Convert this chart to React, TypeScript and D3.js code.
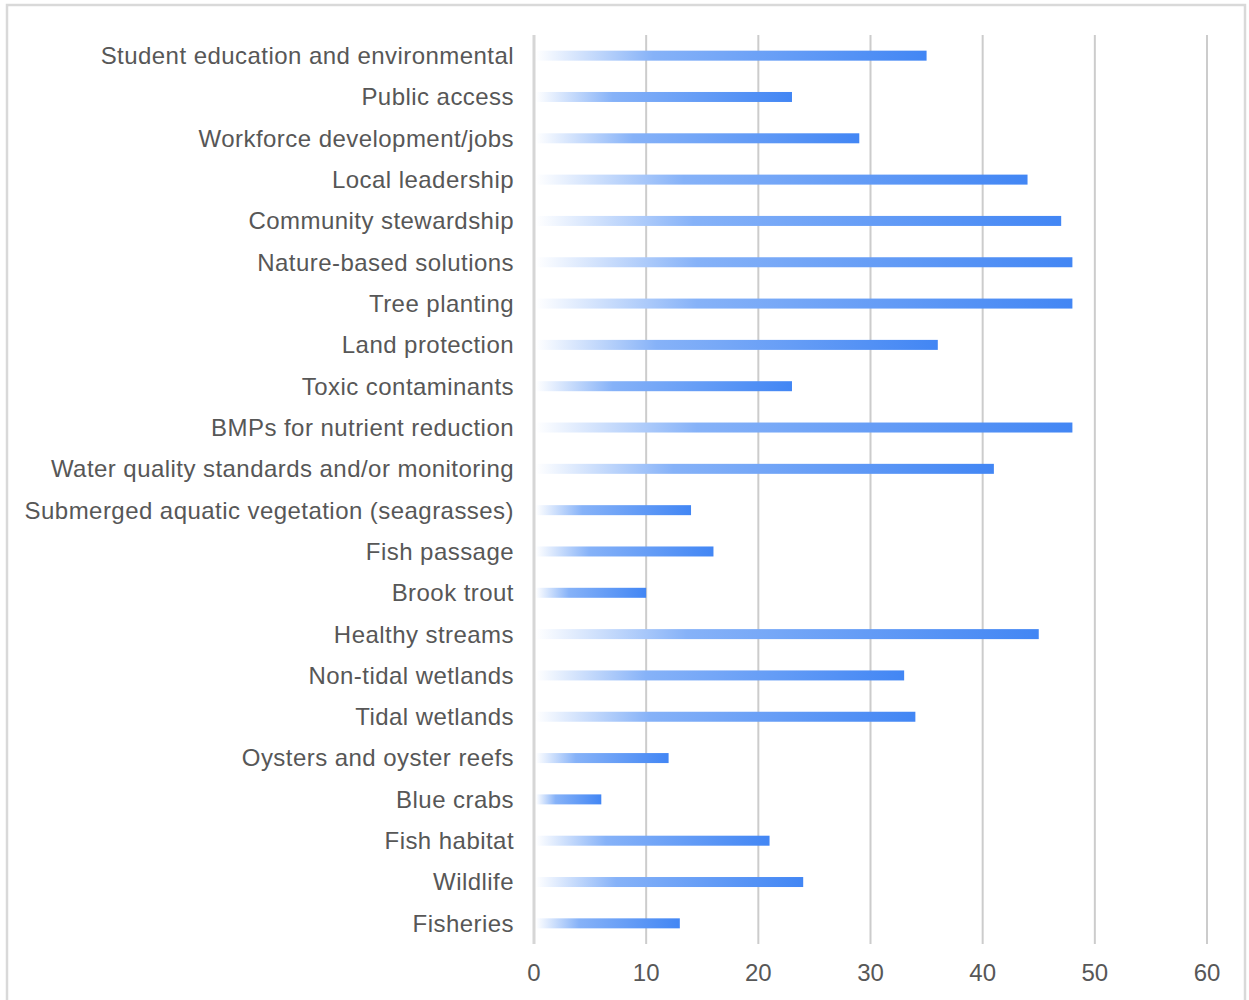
import { useEffect, useRef } from 'react';
import * as d3 from 'd3';

const categories: string[] = [
  'Student education and environmental',
  'Public access',
  'Workforce development/jobs',
  'Local leadership',
  'Community stewardship',
  'Nature-based solutions',
  'Tree planting',
  'Land protection',
  'Toxic contaminants',
  'BMPs for nutrient reduction',
  'Water quality standards and/or monitoring',
  'Submerged aquatic vegetation (seagrasses)',
  'Fish passage',
  'Brook trout',
  'Healthy streams',
  'Non-tidal wetlands',
  'Tidal wetlands',
  'Oysters and oyster reefs',
  'Blue crabs',
  'Fish habitat',
  'Wildlife',
  'Fisheries',
];

const counts: number[] = [35, 23, 29, 44, 47, 48, 48, 36, 23, 48, 41, 14, 16, 10, 45, 33, 34, 12, 6, 21, 24, 13];

const xTicks: number[] = [0, 10, 20, 30, 40, 50, 60];

const W = 1249;
const H = 1000;

function App() {
  const svgRef = useRef<SVGSVGElement>(null);

  useEffect(() => {
    const svg = d3.select(svgRef.current);
    svg.selectAll('*').remove();

    const left = 534;
    const right = 1207;
    const top = 35;
    const bottom = 944;

    const x = d3.scaleLinear().domain([0, 60]).range([left, right]);
    const y = d3.scaleBand<string>().domain(categories).range([top, bottom]);

    // gradient used by every bar (white on the left, blue on the right)
    const defs = svg.append('defs');
    const grad = defs.append('linearGradient')
      .attr('id', 'barGrad')
      .attr('x1', '0%').attr('x2', '100%')
      .attr('y1', '0%').attr('y2', '0%');
    grad.append('stop').attr('offset', '0%').attr('stop-color', '#ffffff');
    grad.append('stop').attr('offset', '30%').attr('stop-color', '#86b2f8');
    grad.append('stop').attr('offset', '100%').attr('stop-color', '#4286f4');

    // outer frame
    svg.append('rect')
      .attr('x', 7).attr('y', 5)
      .attr('width', 1238).attr('height', 1010)
      .attr('fill', 'none')
      .attr('stroke', '#d9d9d9')
      .attr('stroke-width', 2.5);

    // vertical grid lines
    svg.append('g')
      .selectAll('line')
      .data(xTicks)
      .join('line')
      .attr('x1', d => x(d)).attr('x2', d => x(d))
      .attr('y1', top).attr('y2', bottom)
      .attr('stroke', d => (d === 0 ? '#d6d6d6' : '#cccccc'))
      .attr('stroke-width', d => (d === 0 ? 3 : 2));

    // bars
    const barH = 10;
    svg.append('g')
      .selectAll('rect')
      .data(categories)
      .join('rect')
      .attr('x', x(0) + 2)
      .attr('y', d => (y(d) as number) + y.bandwidth() / 2 - barH / 2)
      .attr('width', (d, i) => x(counts[i]) - x(0) - 2)
      .attr('height', barH)
      .attr('fill', 'url(#barGrad)');

    const font = '"Liberation Sans", Arial, Helvetica, sans-serif';

    // category labels
    svg.append('g')
      .selectAll('text')
      .data(categories)
      .join('text')
      .attr('x', 514)
      .attr('y', d => (y(d) as number) + y.bandwidth() / 2)
      .attr('dy', '0.35em')
      .attr('text-anchor', 'end')
      .style('font-family', font)
      .style('font-size', '24px')
      .style('letter-spacing', '0.45px')
      .style('fill', '#575757')
      .text(d => d);

    // x tick labels
    svg.append('g')
      .selectAll('text')
      .data(xTicks)
      .join('text')
      .attr('x', d => x(d))
      .attr('y', 973)
      .attr('dy', '0.35em')
      .attr('text-anchor', 'middle')
      .style('font-family', font)
      .style('font-size', '24px')
      .style('fill', '#575757')
      .text(d => d);
  }, []);

  return (
    <div style={{ position: 'absolute', top: 0, left: 0 }}>
      <svg ref={svgRef} width={W} height={H} style={{ display: 'block', background: '#ffffff' }}></svg>
    </div>
  );
}

export default App;
